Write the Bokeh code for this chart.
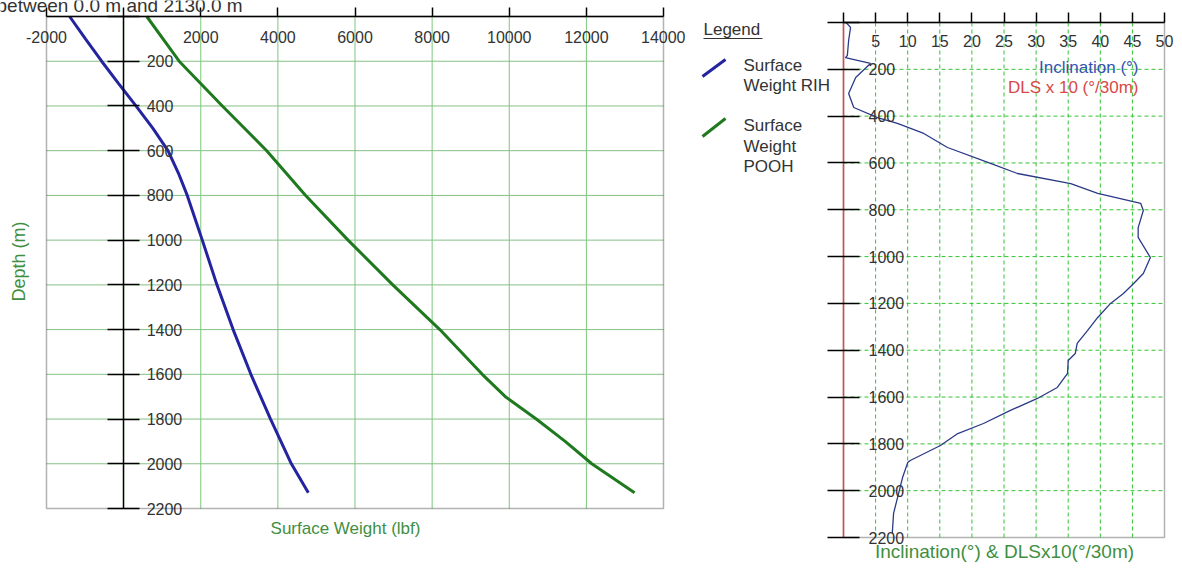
import math
from bokeh.plotting import figure
from bokeh.models import Range1d, LinearAxis, FixedTicker, Label, BoxAnnotation
from bokeh.layouts import row
from bokeh.embed import file_html
from bokeh.resources import INLINE
from bokeh.core.properties import value

FONT = "Liberation Sans"

# ---------------- data ----------------
# Surface weight chart
weight_ticks = [-2000, 0, 2000, 4000, 6000, 8000, 10000, 12000, 14000]
depth_ticks = [0, 200, 400, 600, 800, 1000, 1200, 1400, 1600, 1800, 2000, 2200]

rih_depth = [0, 100, 200, 300, 400, 500, 600, 700, 800, 1000, 1200, 1400, 1600, 1800, 2000, 2130]
rih_weight = [-1400, -990, -570, -130, 320, 760, 1150, 1420, 1650, 2040, 2420, 2840, 3300, 3810, 4350, 4790]

pooh_depth = [0, 200, 400, 600, 800, 1000, 1200, 1400, 1600, 1700, 1800, 1900, 2000, 2130]
pooh_weight = [600, 1440, 2560, 3710, 4720, 5820, 6980, 8200, 9300, 9900, 10700, 11450, 12140, 13250]

# Inclination chart
inc_ticks = [0, 5, 10, 15, 20, 25, 30, 35, 40, 45, 50]
inc_depth = [0, 21, 77, 141, 150, 175, 235, 303, 363, 406, 431, 474, 534, 602, 645, 688, 730,
             773, 803, 876, 918, 1004, 1072, 1115, 1158, 1200, 1260, 1316, 1371, 1414, 1444,
             1499, 1559, 1606, 1657, 1713, 1756, 1807, 1871, 1880, 1944, 2097, 2182]
inc_value = [0.4, 1.1, 0.8, 0.6, 0.3, 4.2, 1.9, 0.8, 1.6, 5.3, 8.4, 12.5, 16.2, 22.9, 27.1, 35.4, 39.6,
             46.3, 46.7, 45.9, 45.9, 47.8, 46.7, 45.2, 43.6, 41.6, 39.6, 38.0, 36.4, 36.1, 35.0,
             34.9, 33.3, 30.2, 26.0, 21.8, 17.8, 15.1, 10.4, 10.0, 9.2, 7.8, 7.6]
dls_depth = [0, 2200]
dls_value = [0, 0]

legend_labels = ["Surface", "Weight RIH", "Surface", "Weight", "POOH"]

BLUE = "#2424a0"
GREEN = "#1f7a1f"
TXT = "#333333"
TITLE_GREEN = "#3f8f3f"
H = 571


def lin(p0, p1, v0, v1):
    return lambda p: v0 + (p - p0) * (v1 - v0) / (p1 - p0)


def tick_axis(ticks, loc, bounds, tick_in, tick_out, standoff, overrides, line=True):
    return LinearAxis(
        ticker=FixedTicker(ticks=ticks), fixed_location=loc, bounds=bounds,
        major_tick_in=tick_in, major_tick_out=tick_out,
        major_tick_line_color="black", major_tick_line_width=1.5,
        minor_tick_line_color=None,
        axis_line_color="black" if line else None, axis_line_width=1.5,
        major_label_standoff=standoff,
        major_label_overrides=overrides,
        major_label_text_font=FONT, major_label_text_font_size="16px",
        major_label_text_color=TXT,
    )


def bare_figure(w, xr, yr):
    f = figure(width=w, height=H, x_range=xr, y_range=yr,
               x_axis_type=None, y_axis_type=None, toolbar_location=None,
               output_backend="svg", min_border=0, frame_align=False)
    f.outline_line_color = None
    f.background_fill_color = "white"
    f.border_fill_color = "white"
    return f


# ---------------- left chart (weights) ----------------
W1 = 685
fx1 = lin(46, 663, weight_ticks[0], weight_ticks[-1])
fy1 = lin(16, 508, depth_ticks[0], depth_ticks[-1])
p1 = bare_figure(W1, Range1d(fx1(0), fx1(W1)), Range1d(fy1(H), fy1(0)))
x_lo, x_hi = weight_ticks[0], weight_ticks[-1]
d_lo, d_hi = depth_ticks[0], depth_ticks[-1]

gx = weight_ticks[1:-1]
gy = depth_ticks[1:-1]
p1.segment(x0=gx, y0=[d_lo] * len(gx), x1=gx, y1=[d_hi] * len(gx),
           line_color="#7cc87c", line_width=1)
p1.segment(x0=[x_lo] * len(gy), y0=gy, x1=[x_hi] * len(gy), y1=gy,
           line_color="#86c086", line_width=1)
p1.add_layout(BoxAnnotation(left=x_lo, right=x_hi, top=d_lo, bottom=d_hi,
                            fill_alpha=0, line_color="black", line_width=1.5))

weight_labels = {t: ("" if t == 0 else str(t)) for t in weight_ticks}
p1.add_layout(tick_axis(weight_ticks, d_lo, (x_lo, x_hi), 9, 0, 14, weight_labels), "below")
p1.add_layout(tick_axis(depth_ticks, 0, (d_lo, d_hi), 16, 16, 7, {0: ""}), "right")

p1.line(rih_weight, rih_depth, line_color=BLUE, line_width=3)
p1.line(pooh_weight, pooh_depth, line_color=GREEN, line_width=3)

# partially visible caption at the very top edge (cut off in the original)
p1.add_layout(Label(x=fx1(-4), y=fy1(5), text="between 0.0 m and 2130.0 m", text_align="left",
                    text_baseline="alphabetic", text_font=FONT, text_font_size="19px",
                    text_color=TXT))
p1.add_layout(Label(x=fx1(345), y=fy1(528), text="Surface Weight (lbf)", text_align="center",
                    text_baseline="middle", text_font=FONT, text_font_size="17px",
                    text_color=TITLE_GREEN))
p1.add_layout(Label(x=fx1(18), y=fy1(261), text="Depth (m)", angle=math.pi / 2,
                    text_align="center", text_baseline="middle", text_font=FONT,
                    text_font_size="18px", text_color=TITLE_GREEN))

# ---------------- right chart (inclination) + legend ----------------
W2 = 1182 - W1
fx2 = lin(843 - W1, 1164 - W1, inc_ticks[0], inc_ticks[-1])
fy2 = lin(22, 537, depth_ticks[0], depth_ticks[-1])
p2 = bare_figure(W2, Range1d(fx2(0), fx2(W2)), Range1d(fy2(H), fy2(0)))
i_lo, i_hi = inc_ticks[0], inc_ticks[-1]

gx2 = inc_ticks[1:-1]
p2.add_layout(BoxAnnotation(left=i_lo, right=i_hi, top=d_lo, bottom=d_hi, level="underlay",
                            fill_alpha=0, line_color="black", line_width=1.5))
p2.segment(x0=gx2, y0=[d_lo] * len(gx2), x1=gx2, y1=[d_hi] * len(gx2),
           line_color="#33c433", line_width=1, line_dash="4 3")
p2.segment(x0=[i_lo] * len(gy), y0=gy, x1=[i_hi] * len(gy), y1=gy,
           line_color="#33c433", line_width=1, line_dash="4 3")

p2.add_layout(tick_axis(inc_ticks, d_lo, (i_lo, i_hi), 10, 0, 12, {0: ""}), "below")
p2.add_layout(tick_axis(depth_ticks, i_lo, (d_lo, d_hi), 16, 16, 9, {0: ""}, line=False), "right")

p2.line(dls_value, dls_depth, line_color="#e04848", line_width=1.5)
p2.line(inc_value, inc_depth, line_color="#2b3a86", line_width=1.3)

p2.add_layout(Label(x=fx2(1138 - W1), y=fy2(67), text="Inclination (°)", text_align="right",
                    text_baseline="middle", text_font=FONT, text_font_size="17px",
                    text_color="#3553b0"))
p2.add_layout(Label(x=fx2(1138 - W1), y=fy2(87), text="DLS x 10 (°/30m)", text_align="right",
                    text_baseline="middle", text_font=FONT, text_font_size="17px",
                    text_color="#d84848"))
p2.add_layout(Label(x=fx2(1004 - W1), y=fy2(551), text="Inclination(°) & DLSx10(°/30m)",
                    text_align="center", text_baseline="middle", text_font=FONT,
                    text_font_size="19px", text_color=TITLE_GREEN))

# legend (drawn in the gap left of the inclination frame)
p2.text(x=[fx2(18)], y=[fy2(29)], text=["Legend"], text_font=value(FONT), text_font_size="17px",
        text_color=TXT, text_baseline="middle")
p2.segment(x0=[fx2(18)], y0=[fy2(38)], x1=[fx2(77)], y1=[fy2(38)], line_color=TXT, line_width=1)
p2.segment(x0=[fx2(17), fx2(17)], y0=[fy2(76), fy2(136)], x1=[fx2(40), fx2(40)],
           y1=[fy2(59), fy2(118)], line_color=[BLUE, GREEN], line_width=3)
p2.text(x=[fx2(58)] * 5, y=[fy2(v) for v in (65, 85, 125, 146, 166)], text=legend_labels,
        text_font=value(FONT), text_font_size="17px", text_color=TXT, text_baseline="middle")

layout = row(p1, p2, spacing=0)
open("out.html", "w").write(file_html(layout, INLINE))
